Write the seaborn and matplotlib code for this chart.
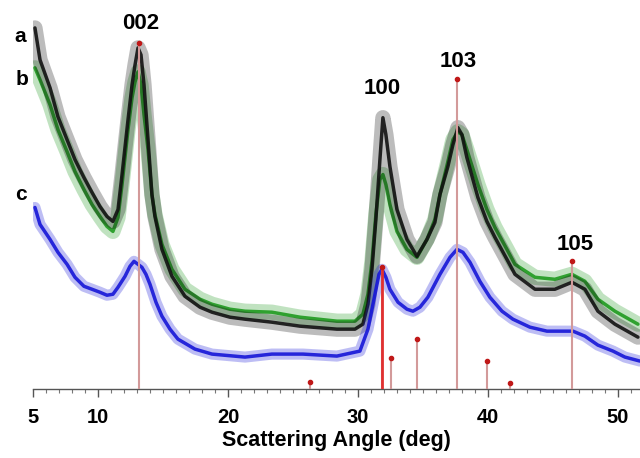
import numpy as np
import pandas as pd
import matplotlib
matplotlib.use("Agg")
import matplotlib.pyplot as plt
import seaborn as sns
from matplotlib.ticker import MultipleLocator, FixedLocator

## angulos (graus) e intensidades - curva a (preta)
ang_a = [5.15, 5.54, 6.31, 6.92, 7.62, 8.23, 8.92, 9.54, 10.15, 10.69, 11.15, 11.54,
         11.85, 12.31, 12.62, 12.85, 13.08, 13.31, 13.54, 13.85, 14.15, 14.38, 14.92,
         15.69, 16.69, 17.85, 18.77, 20.15, 21.31, 23.38, 25.54, 28.38, 29.77, 30.38,
         30.77, 31.08, 31.38, 31.69, 31.92, 32.15, 32.46, 33.0, 33.77, 34.54, 35.31,
         35.92, 36.31, 36.92, 37.31, 37.69, 38.0, 38.38, 39.23, 39.92, 40.54, 41.46,
         42.08, 43.62, 45.15, 46.46, 47.46, 48.46, 49.77, 51.54]
int_a = [362, 330, 302, 273, 250, 230, 212, 197, 183, 173, 168, 180,
         215, 270, 305, 325, 342, 335, 305, 250, 195, 173, 140,
         113, 93, 82, 77, 72, 70, 67, 63, 60, 60, 65,
         85, 120, 170, 230, 272, 255, 223, 180, 150, 133, 150,
         167, 195, 223, 245, 262, 255, 232, 192, 168, 152, 130,
         115, 100, 100, 107, 100, 78, 65, 52]

## curva b (verde)
ang_b = ang_a
int_b = [322, 310, 285, 260, 238, 218, 200, 185, 173, 163, 158, 172,
         205, 260, 292, 308, 318, 305, 275, 240, 195, 175, 145,
         120, 100, 90, 85, 80, 78, 77, 72, 68, 68, 75,
         95, 128, 175, 210, 215, 205, 185, 158, 140, 132, 150,
         170, 195, 228, 250, 258, 255, 240, 205, 180, 162, 140,
         125, 112, 110, 115, 108, 90, 78, 65]

## curva c (azul)
ang_c = [5.15, 5.54, 6.31, 6.92, 7.62, 8.23, 8.92, 9.54, 10.15, 10.69, 11.15, 11.54,
         12.08, 12.46, 12.77, 13.08, 13.38, 13.69, 14.0, 14.46, 14.92, 15.54, 16.15,
         17.46, 18.77, 21.31, 23.38, 25.77, 28.38, 30.15, 30.77, 31.08, 31.31, 31.62,
         31.85, 32.15, 32.46, 33.08, 33.77, 34.23, 34.77, 35.38, 36.31, 37.08, 37.62,
         38.08, 38.62, 39.38, 40.15, 41.08, 41.92, 43.23, 44.54, 45.54, 46.54, 47.46,
         48.46, 49.62, 50.54, 51.69]
int_c = [182, 165, 150, 137, 125, 112, 103, 100, 97, 94, 95, 102,
         113, 123, 128, 125, 122, 115, 105, 87, 73, 60, 50,
         40, 35, 32, 35, 35, 33, 38, 60, 80, 95, 115,
         120, 112, 100, 87, 80, 78, 82, 92, 115, 132, 140,
         137, 127, 108, 92, 78, 70, 62, 58, 58, 58, 53,
         44, 38, 32, 28]

## linhas de referencia (padrao) - posicao e altura
ref_ang = [13.15, 26.3, 31.85, 32.54, 34.54, 37.62, 39.92, 41.69, 46.46]
ref_int = [347, 7, 122, 31, 50, 311, 28, 6, 128]

## indices dos picos
picos = ["002", "100", "103", "105"]
picos_ang = [13.3, 31.9, 37.7, 46.7]
picos_int = [366, 301, 328, 145]

## rotulos das curvas
curvas = ["a", "b", "c"]
curvas_ang = [4.0, 4.15, 4.1]
curvas_int = [353, 310, 195]

sns.set_theme(style="white")
plt.rcParams['font.family'] = ['Liberation Sans', 'DejaVu Sans']
plt.rcParams['font.weight'] = 'bold'
plt.rcParams['text.color'] = 'black'
plt.rcParams['xtick.color'] = 'black'
plt.rcParams['axes.labelcolor'] = 'black'

fig = plt.figure(figsize=(6.4, 4.58), dpi=100)
ax = fig.add_axes([33 / 640, 69 / 458, 1 - 33 / 640, 1 - 69 / 458])

df_a = pd.DataFrame({"ang": ang_a, "int": int_a})
df_b = pd.DataFrame({"ang": ang_b, "int": int_b})
df_c = pd.DataFrame({"ang": ang_c, "int": int_c})

## ruido aproximado: traco largo e claro + traco fino escuro
for df, cor, larg in [(df_b, "#1f9a1f", 11), (df_a, "#111111", 11), (df_c, "#1515d8", 8)]:
    sns.lineplot(data=df, x="ang", y="int", color=cor, lw=larg, alpha=0.28, ax=ax)
    sns.lineplot(data=df, x="ang", y="int", color=cor, lw=2.5, alpha=0.9, ax=ax)

## linhas de referencia
ax.vlines(ref_ang, 0, ref_int, color="#d39a9a", lw=1.5, zorder=5)
ax.vlines(ref_ang[2], 0, ref_int[2], color="#e03030", lw=2, zorder=5)
ax.scatter(ref_ang, ref_int, s=9, color="#c01818", zorder=6)

for txt, x, y in zip(picos, picos_ang, picos_int):
    ax.text(x, y, txt, ha="center", va="center", fontsize=16, fontweight="bold")
for txt, x, y in zip(curvas, curvas_ang, curvas_int):
    ax.text(x, y, txt, ha="center", va="center", fontsize=15, fontweight="bold",
            clip_on=False)

ax.set_xlim(5, 51.7)
ax.set_ylim(0, 390)
ax.xaxis.set_major_locator(FixedLocator([5, 10, 20, 30, 40, 50]))
ax.xaxis.set_minor_locator(MultipleLocator(1))
ax.set_yticks([])
for s in ["top", "left", "right"]:
    ax.spines[s].set_visible(False)
ax.spines["bottom"].set_color("#555555")
ax.spines["bottom"].set_linewidth(1)
ax.tick_params(axis="x", which="major", direction="out", length=6, width=1,
               color="#555555", labelsize=14.5, pad=8, bottom=True)
ax.tick_params(axis="x", which="minor", direction="out", length=3, width=0.8,
               color="#777777", bottom=True)
for lab in ax.get_xticklabels():
    lab.set_fontweight("bold")
ax.set_xlabel("Scattering Angle (deg)", fontsize=15.5, fontweight="bold", labelpad=2)
ax.set_ylabel("")

plt.savefig("out.png", dpi=100)
plt.close()
